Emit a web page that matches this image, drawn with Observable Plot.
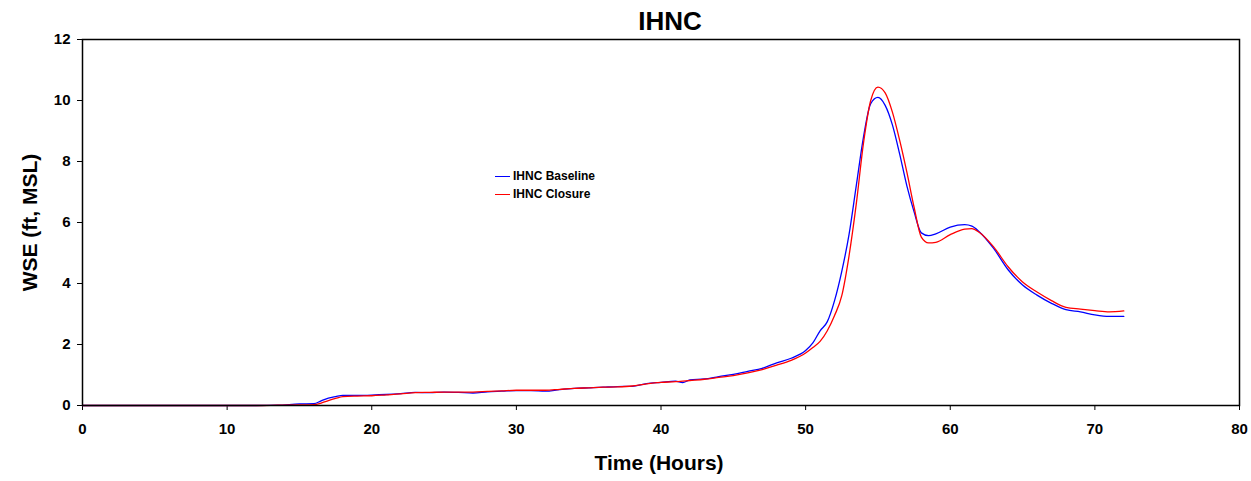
<!DOCTYPE html>
<html>
<head>
<meta charset="utf-8">
<script src="https://cdn.jsdelivr.net/npm/d3@7"></script>
<script src="https://cdn.jsdelivr.net/npm/@observablehq/plot@0.6"></script>
<style>
  html, body { margin: 0; padding: 0; background: #fff; }
  #wrap { position: relative; width: 1251px; height: 481px; font-family: "Liberation Sans", Arial, sans-serif; }
  #legend { position: absolute; left: 495px; top: 167px; font-size: 12px; font-weight: bold; color: #000; line-height: 18px; }
  #legend .row { display: flex; align-items: center; white-space: nowrap; }
  #legend .sw { display: inline-block; width: 15px; height: 0; border-top: 1.5px solid; margin-right: 3px; }
</style>
</head>
<body>
<div id="wrap">
  <div id="chart"></div>
  <div id="legend"></div>
</div>
<script>
const titleText = "IHNC";
const xLabel = "Time (Hours)";
const yLabel = "WSE (ft, MSL)";
const seriesNames = ["IHNC Baseline", "IHNC Closure"];
const seriesColors = ["#0000FF", "#FF0000"];
const xTicks = [0, 10, 20, 30, 40, 50, 60, 70, 80];
const yTicks = [0, 2, 4, 6, 8, 10, 12];

const hours = [0, 5, 10, 12, 13.5, 15, 16, 16.5, 17, 17.5, 18, 19, 20, 21, 22, 23, 24, 25, 26, 27, 28, 29, 30, 31, 32, 33, 34, 35, 36, 37, 38, 39, 40, 41, 41.5, 42, 43, 44, 45, 46, 47, 48, 49, 50, 50.5, 51, 51.5, 52, 52.5, 53, 53.5, 54, 54.5, 55, 55.5, 56, 56.5, 57, 57.5, 58, 58.5, 59, 60, 61, 61.5, 62, 63, 64, 65, 66, 67, 68, 69, 70, 71, 72];

const baseline = [0, 0, 0, 0, 0.01, 0.05, 0.06, 0.15, 0.24, 0.29, 0.33, 0.33, 0.34, 0.36, 0.39, 0.43, 0.42, 0.44, 0.43, 0.41, 0.45, 0.47, 0.49, 0.49, 0.47, 0.52, 0.56, 0.58, 0.60, 0.62, 0.63, 0.72, 0.76, 0.80, 0.75, 0.84, 0.87, 0.95, 1.02, 1.12, 1.22, 1.40, 1.55, 1.80, 2.05, 2.45, 2.75, 3.44, 4.40, 5.60, 7.20, 8.80, 9.90, 10.10, 9.84, 9.20, 8.25, 7.20, 6.35, 5.66, 5.57, 5.63, 5.85, 5.93, 5.88, 5.70, 5.15, 4.45, 3.95, 3.62, 3.35, 3.14, 3.07, 2.97, 2.92, 2.92];

const closure = [0, 0, 0, 0, 0.01, 0.02, 0.03, 0.08, 0.16, 0.23, 0.29, 0.31, 0.32, 0.35, 0.38, 0.42, 0.43, 0.44, 0.44, 0.44, 0.46, 0.48, 0.50, 0.50, 0.50, 0.53, 0.56, 0.58, 0.60, 0.61, 0.64, 0.71, 0.76, 0.78, 0.80, 0.82, 0.86, 0.92, 0.98, 1.07, 1.18, 1.32, 1.48, 1.72, 1.90, 2.10, 2.45, 2.95, 3.60, 4.90, 6.60, 8.60, 10.00, 10.44, 10.25, 9.62, 8.70, 7.65, 6.50, 5.52, 5.33, 5.35, 5.60, 5.78, 5.80, 5.68, 5.20, 4.55, 4.05, 3.72, 3.44, 3.22, 3.16, 3.11, 3.07, 3.10];

const rows = [];
hours.forEach((h, i) => {
  rows.push({ series: seriesNames[0], hour: h, wse: baseline[i] });
  rows.push({ series: seriesNames[1], hour: h, wse: closure[i] });
});

const font = '"Liberation Sans", Arial, sans-serif';

const plot = Plot.plot({
  width: 1251,
  height: 481,
  marginTop: 39,
  marginLeft: 82,
  marginRight: 12,
  marginBottom: 76,
  style: { fontFamily: font, fontSize: "15px", fontWeight: "bold", color: "#000", background: "#fff", overflow: "visible" },
  x: { domain: [0, 80] },
  y: { domain: [0, 12] },
  color: { domain: seriesNames, range: seriesColors },
  marks: [
    Plot.axisX({ ticks: xTicks, tickSize: 5, tickPadding: 13, label: null, tickFormat: d => d }),
    Plot.axisY({ ticks: yTicks, tickSize: 5, tickPadding: 7, label: null, tickFormat: d => d }),
    Plot.lineY(rows, { x: "hour", y: "wse", z: "series", stroke: "series", strokeWidth: 1.3, curve: "monotone-x" }),
    Plot.frame({ stroke: "#000", strokeWidth: 1.5 }),
    Plot.text([titleText], { frameAnchor: "top", dx: 9, dy: -18, fontSize: 26, fontWeight: "bold", lineAnchor: "middle", fill: "#000" }),
    Plot.text([xLabel], { frameAnchor: "bottom", dy: 58, dx: -2, fontSize: 21, fontWeight: "bold", lineAnchor: "middle", fill: "#000" }),
    Plot.text([yLabel], { frameAnchor: "left", dx: -52, rotate: -90, fontSize: 21, fontWeight: "bold", lineAnchor: "middle", textAnchor: "middle", fill: "#000" })
  ]
});
document.getElementById("chart").appendChild(plot);

const legend = document.getElementById("legend");
seriesNames.forEach((name, i) => {
  const row = document.createElement("div");
  row.className = "row";
  const sw = document.createElement("span");
  sw.className = "sw";
  sw.style.borderTopColor = seriesColors[i];
  row.appendChild(sw);
  row.appendChild(document.createTextNode(name));
  legend.appendChild(row);
});
</script>
</body>
</html>
